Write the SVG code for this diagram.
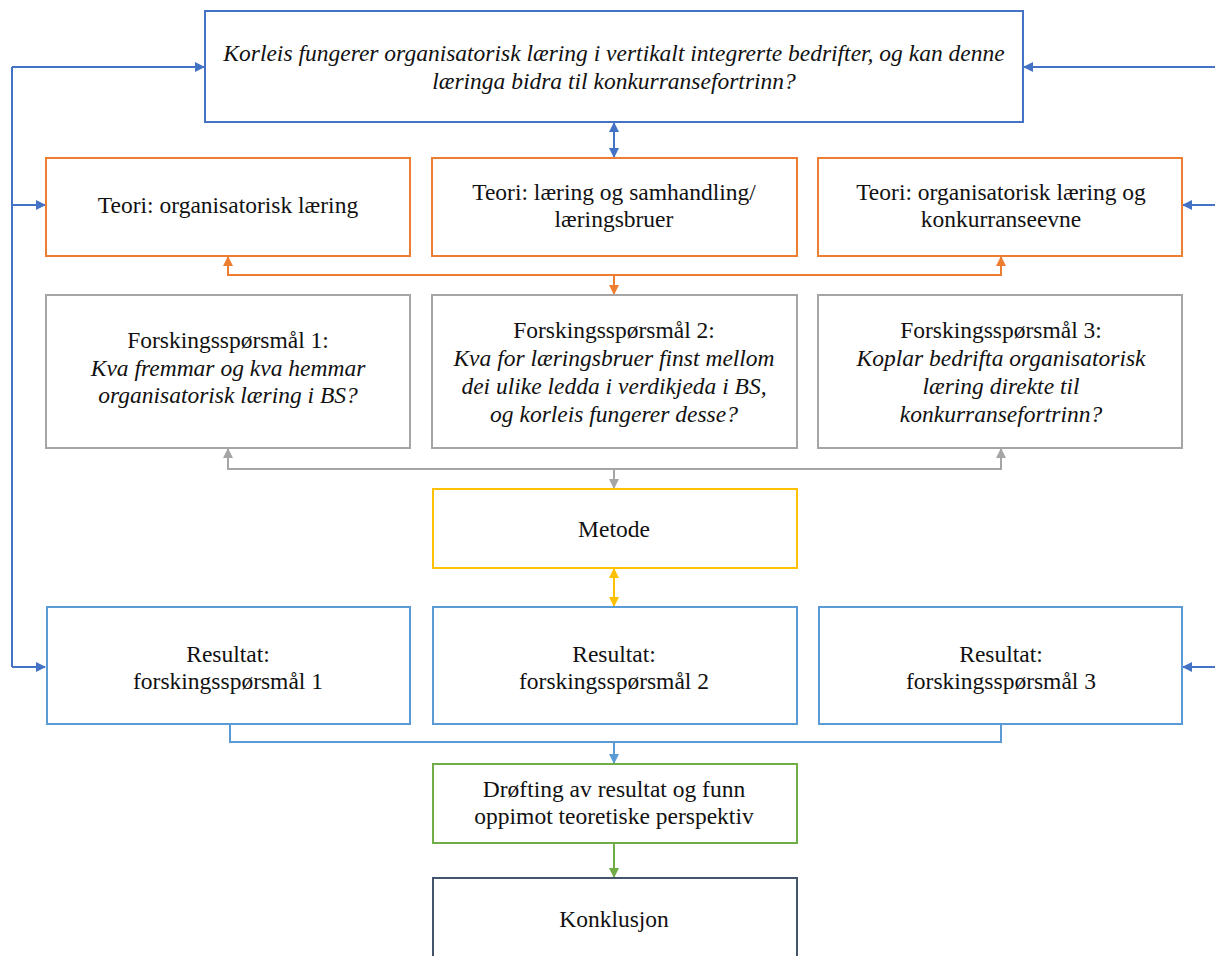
<svg xmlns="http://www.w3.org/2000/svg" width="1215" height="956" viewBox="0 0 1215 956">
<style>
.t{font-family:"Liberation Serif","Times New Roman",serif;font-size:23.5px;fill:#111;text-anchor:middle}
.i{font-style:italic}
.box{fill:#fff;stroke-width:2}
.c{fill:none;stroke-width:2}
</style>
<defs>
<marker id="ab" viewBox="0 0 10 10" refX="9" refY="5" markerWidth="5" markerHeight="5" orient="auto-start-reverse"><path d="M0,0L10,5L0,10z" fill="#4472c4"/></marker>
<marker id="ao" viewBox="0 0 10 10" refX="9" refY="5" markerWidth="5" markerHeight="5" orient="auto-start-reverse"><path d="M0,0L10,5L0,10z" fill="#ed7d31"/></marker>
<marker id="ag" viewBox="0 0 10 10" refX="9" refY="5" markerWidth="5" markerHeight="5" orient="auto-start-reverse"><path d="M0,0L10,5L0,10z" fill="#a5a5a5"/></marker>
<marker id="ay" viewBox="0 0 10 10" refX="9" refY="5" markerWidth="5" markerHeight="5" orient="auto-start-reverse"><path d="M0,0L10,5L0,10z" fill="#ffc000"/></marker>
<marker id="al" viewBox="0 0 10 10" refX="9" refY="5" markerWidth="5" markerHeight="5" orient="auto-start-reverse"><path d="M0,0L10,5L0,10z" fill="#5b9bd5"/></marker>
<marker id="agr" viewBox="0 0 10 10" refX="9" refY="5" markerWidth="5" markerHeight="5" orient="auto-start-reverse"><path d="M0,0L10,5L0,10z" fill="#70ad47"/></marker>
</defs>
<g id="connectors">
<path class="c" stroke="#4472c4" d="M12,667V67" />
<path class="c" stroke="#4472c4" d="M12,67H204" marker-end="url(#ab)"/>
<path class="c" stroke="#4472c4" d="M12,205H45" marker-end="url(#ab)"/>
<path class="c" stroke="#4472c4" d="M12,667H45" marker-end="url(#ab)"/>
<path class="c" stroke="#4472c4" d="M1215,67H1024" marker-end="url(#ab)"/>
<path class="c" stroke="#4472c4" d="M1215,205H1183" marker-end="url(#ab)"/>
<path class="c" stroke="#4472c4" d="M1215,667H1183" marker-end="url(#ab)"/>
<path class="c" stroke="#4472c4" d="M614,123V157" marker-start="url(#ab)" marker-end="url(#ab)"/>
<path class="c" stroke="#ed7d31" d="M228,257V275H1001V257" marker-start="url(#ao)" marker-end="url(#ao)"/>
<path class="c" stroke="#ed7d31" d="M614,275V294" marker-end="url(#ao)"/>
<path class="c" stroke="#a5a5a5" d="M228,449V469H1001V449" marker-start="url(#ag)" marker-end="url(#ag)"/>
<path class="c" stroke="#a5a5a5" d="M614,469V488" marker-end="url(#ag)"/>
<path class="c" stroke="#ffc000" d="M614,569V606" marker-start="url(#ay)" marker-end="url(#ay)"/>
<path class="c" stroke="#5b9bd5" d="M230,725V742H1001V725"/>
<path class="c" stroke="#5b9bd5" d="M614,742V763" marker-end="url(#al)"/>
<path class="c" stroke="#70ad47" d="M614,844V877" marker-end="url(#agr)"/>
</g>
<g id="question">
<rect class="box" stroke="#4472c4" x="205" y="11" width="818" height="111"/>
<text class="t i" x="614" y="61">Korleis fungerer organisatorisk læring i vertikalt integrerte bedrifter, og kan denne</text>
<text class="t i" x="614" y="89">læringa bidra til konkurransefortrinn?</text>
</g>
<g id="teori1">
<rect class="box" stroke="#ed7d31" x="46" y="158" width="364" height="98"/>
<text class="t" x="228" y="213">Teori: organisatorisk læring</text>
</g>
<g id="teori2">
<rect class="box" stroke="#ed7d31" x="432" y="158" width="365" height="98"/>
<text class="t" x="614" y="200">Teori: læring og samhandling/</text>
<text class="t" x="614" y="227">læringsbruer</text>
</g>
<g id="teori3">
<rect class="box" stroke="#ed7d31" x="818" y="158" width="364" height="98"/>
<text class="t" x="1001" y="200">Teori: organisatorisk læring og</text>
<text class="t" x="1001" y="227">konkurranseevne</text>
</g>
<g id="fs1">
<rect class="box" stroke="#a5a5a5" x="46" y="295" width="364" height="153"/>
<text class="t" x="228" y="348">Forskingsspørsmål 1:</text>
<text class="t i" x="228" y="376">Kva fremmar og kva hemmar</text>
<text class="t i" x="228" y="403">organisatorisk læring i BS?</text>
</g>
<g id="fs2">
<rect class="box" stroke="#a5a5a5" x="432" y="295" width="365" height="153"/>
<text class="t" x="614" y="338">Forskingsspørsmål 2:</text>
<text class="t i" x="614" y="366">Kva for læringsbruer finst mellom</text>
<text class="t i" x="614" y="394">dei ulike ledda i verdikjeda i BS,</text>
<text class="t i" x="614" y="422">og korleis fungerer desse?</text>
</g>
<g id="fs3">
<rect class="box" stroke="#a5a5a5" x="818" y="295" width="364" height="153"/>
<text class="t" x="1001" y="338">Forskingsspørsmål 3:</text>
<text class="t i" x="1001" y="366">Koplar bedrifta organisatorisk</text>
<text class="t i" x="1001" y="394">læring direkte til</text>
<text class="t i" x="1001" y="422">konkurransefortrinn?</text>
</g>
<g id="metode">
<rect class="box" stroke="#ffc000" x="433" y="489" width="364" height="79"/>
<text class="t" x="614" y="537">Metode</text>
</g>
<g id="res1">
<rect class="box" stroke="#5b9bd5" x="47" y="607" width="363" height="117"/>
<text class="t" x="228" y="662">Resultat:</text>
<text class="t" x="228" y="689">forskingsspørsmål 1</text>
</g>
<g id="res2">
<rect class="box" stroke="#5b9bd5" x="433" y="607" width="364" height="117"/>
<text class="t" x="614" y="662">Resultat:</text>
<text class="t" x="614" y="689">forskingsspørsmål 2</text>
</g>
<g id="res3">
<rect class="box" stroke="#5b9bd5" x="819" y="607" width="363" height="117"/>
<text class="t" x="1001" y="662">Resultat:</text>
<text class="t" x="1001" y="689">forskingsspørsmål 3</text>
</g>
<g id="drofting">
<rect class="box" stroke="#70ad47" x="433" y="764" width="364" height="79"/>
<text class="t" x="614" y="797">Drøfting av resultat og funn</text>
<text class="t" x="614" y="824">oppimot teoretiske perspektiv</text>
</g>
<g id="konklusjon">
<rect class="box" stroke="#44546a" x="433" y="878" width="364" height="90"/>
<text class="t" x="614" y="927">Konklusjon</text>
</g>
</svg>
